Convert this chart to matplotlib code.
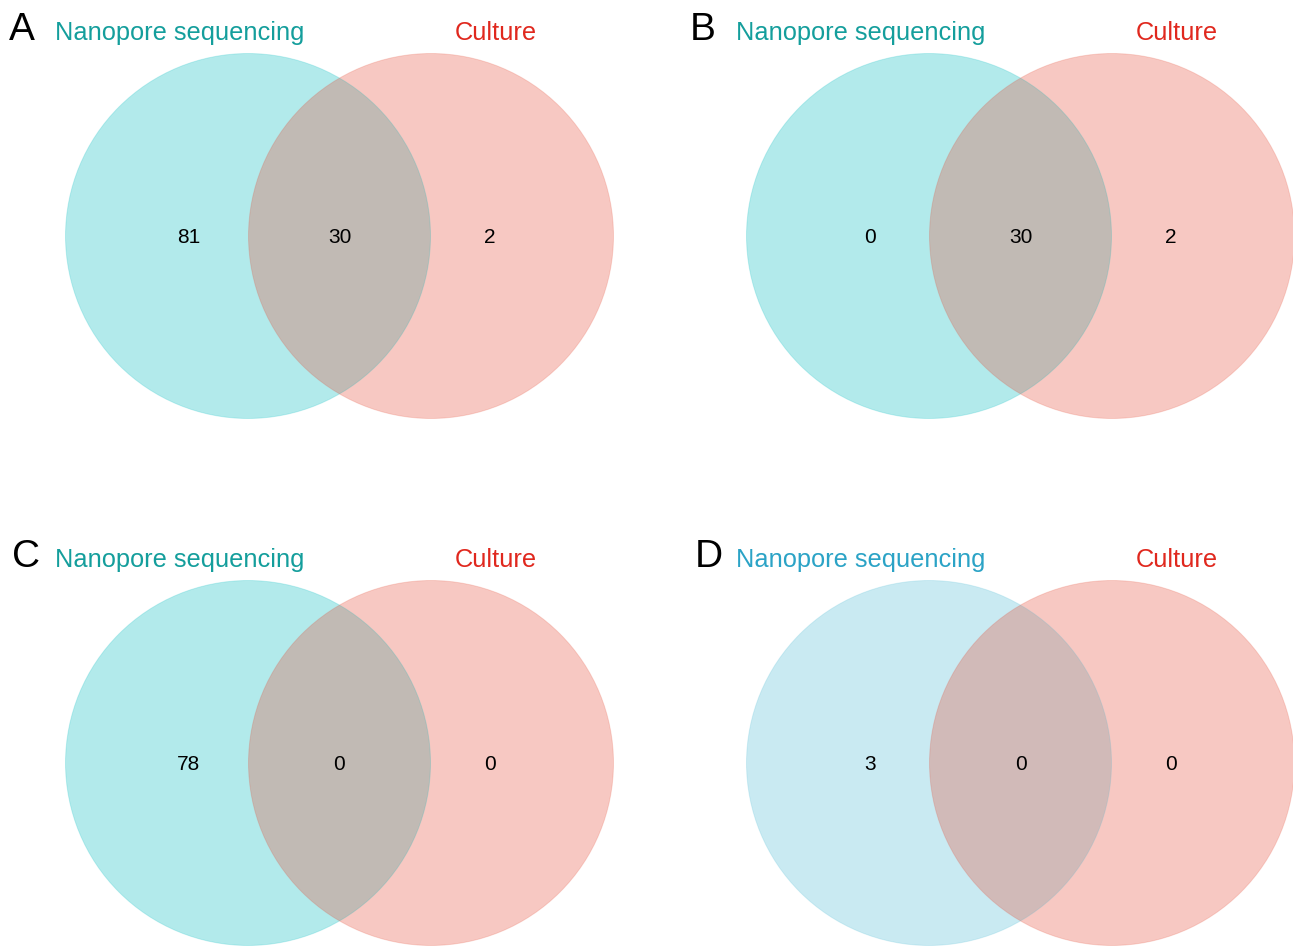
import matplotlib.pyplot as plt
from matplotlib.patches import Circle

plt.rcParams['font.family'] = ['Liberation Sans', 'DejaVu Sans']

# counts per panel: (nanopore only, both, culture only)
panels = ['A', 'B', 'C', 'D']
nanopore_only = [81, 0, 78, 3]
both = [30, 30, 0, 0]
culture_only = [2, 2, 0, 0]
set_names = ['Nanopore sequencing', 'Culture']

left_fill = ['#00BCC0', '#00BCC0', '#00BCC0', '#4DBBD5']
left_text = ['#149E9C', '#149E9C', '#149E9C', '#2BA3C6']
right_fill = '#E64B35'
right_text = '#E0281E'

# panel origins (pixels) for the left circle centre
origins = [(248, 236), (929, 236), (248, 763), (929, 763)]
letter_dx = [-226, -226, -222, -220]
r = 182.5
gap = 183

fig = plt.figure(figsize=(12.93, 9.46), dpi=100)
ax = fig.add_axes([0, 0, 1, 1])
ax.set_xlim(0, 1293)
ax.set_ylim(946, 0)
ax.set_aspect('equal')
ax.axis('off')

for i, p in enumerate(panels):
    cx, cy = origins[i]
    ax.add_patch(Circle((cx, cy), r, facecolor=left_fill[i], alpha=0.3,
                        edgecolor='none'))
    ax.add_patch(Circle((cx + gap, cy), r, facecolor=right_fill, alpha=0.3,
                        edgecolor='none'))
    ax.add_patch(Circle((cx, cy), r, fill=False, edgecolor=left_fill[i],
                        alpha=0.2, lw=0.7))
    ax.add_patch(Circle((cx + gap, cy), r, fill=False, edgecolor=right_fill,
                        alpha=0.2, lw=0.7))

    vals = [nanopore_only[i], both[i], culture_only[i]]
    xs = [cx - 59, cx + gap / 2, cx + gap + 59]
    for x, v in zip(xs, vals):
        ax.text(x, cy + 1, str(v), fontsize=15, ha='center', va='center',
                color='black')

    ax.text(cx - 68, cy - 203, set_names[0], fontsize=18.3, ha='center',
            va='center', color=left_text[i])
    ax.text(cx + 248, cy - 203, set_names[1], fontsize=18.3, ha='center',
            va='center', color=right_text)
    ax.text(cx + letter_dx[i], cy - 206, p, fontsize=28, ha='center',
            va='center', color='black')

fig.savefig('out.png', dpi=100)
